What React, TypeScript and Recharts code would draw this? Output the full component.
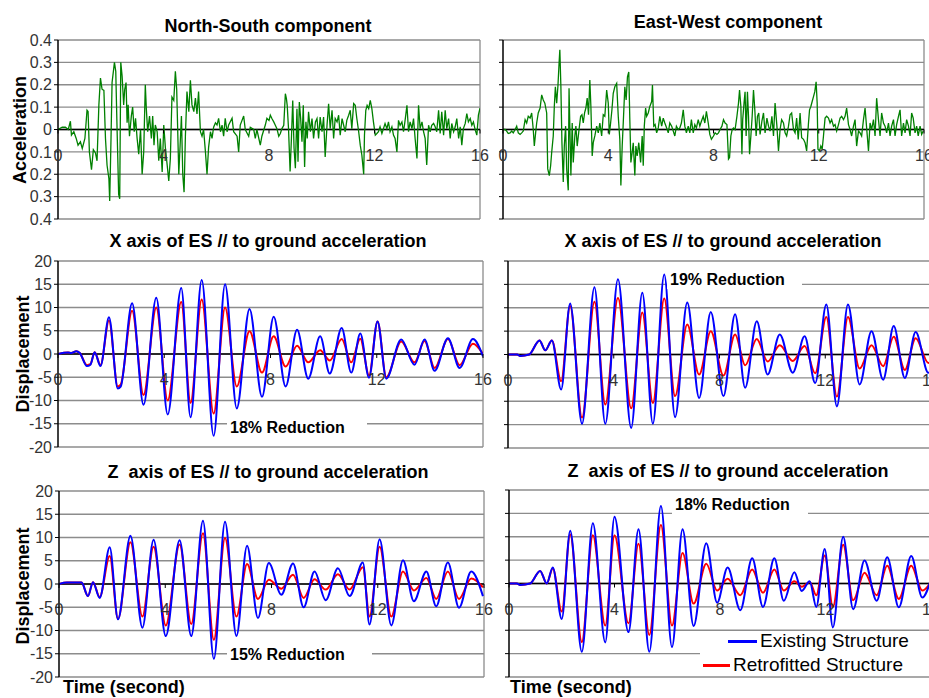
import React from "react";
import { LineChart, Line, XAxis, YAxis, CartesianGrid, ReferenceLine } from "recharts";

const FONT = '"Liberation Sans", Arial, sans-serif';
const GRID = "#8c8c8c";

const TIME_TICKS = [0, 4, 8, 12, 16];
const ACCEL_TICKS = [-0.4, -0.3, -0.2, -0.1, 0, 0.1, 0.2, 0.3, 0.4];
const DISP_TICKS = [-20, -15, -10, -5, 0, 5, 10, 15, 20];

// ground acceleration, [time (s), acceleration]
const nsAccel: [number, number][] = [
  [0, 0], [0.16, 0.01], [0.28, 0.01], [0.39, 0], [0.47, 0.037], [0.51, -0.025], [0.6, -0.01], [0.69, -0.04], [0.76, -0.07], [0.85, -0.055],
  [0.92, -0.085], [1.02, -0.04], [1.1, 0.086], [1.14, 0.08], [1.19, -0.1], [1.27, -0.18], [1.34, -0.09], [1.42, -0.105], [1.48, -0.14], [1.55, 0.11],
  [1.61, 0.23], [1.67, 0.18], [1.74, 0.175], [1.8, -0.04], [1.86, -0.16], [1.93, -0.22], [1.96, -0.32], [2.01, -0.04], [2.05, 0.21], [2.14, 0.3],
  [2.19, 0.26], [2.24, 0], [2.3, -0.29], [2.34, -0.31], [2.38, 0.3], [2.43, 0.24], [2.49, 0.11], [2.53, 0.18], [2.58, 0.21], [2.62, 0.03],
  [2.66, 0.11], [2.71, -0.03], [2.78, 0.06], [2.83, 0.1], [2.89, -0.01], [2.94, 0.05], [3.0, -0.04], [3.06, -0.11], [3.13, 0], [3.19, -0.2],
  [3.25, -0.1], [3.31, 0.2], [3.35, 0.09], [3.4, -0.01], [3.47, 0.06], [3.54, -0.04], [3.59, 0.06], [3.64, -0.07], [3.69, 0.02], [3.76, -0.01],
  [3.82, -0.14], [3.88, -0.04], [3.95, -0.19], [4.01, 0.02], [4.07, -0.08], [4.14, -0.16], [4.2, -0.23], [4.26, -0.13], [4.32, 0.145], [4.39, 0.13],
  [4.45, 0.26], [4.5, 0.18], [4.58, -0.2], [4.63, -0.07], [4.68, 0.06], [4.73, -0.2], [4.78, -0.28], [4.83, -0.03], [4.89, 0.17], [4.96, 0.08],
  [5.02, 0.22], [5.08, 0.11], [5.15, 0.08], [5.21, 0.14], [5.27, 0.07], [5.33, 0.17], [5.4, -0.01], [5.46, -0.03], [5.52, 0], [5.59, -0.1],
  [5.65, -0.2], [5.71, -0.08], [5.78, -0.01], [5.84, -0.04], [5.9, 0.01], [5.97, 0.03], [6.03, 0.02], [6.09, 0.05], [6.16, -0.01], [6.22, 0.02],
  [6.28, -0.03], [6.34, 0.05], [6.41, -0.01], [6.47, 0.02], [6.6, 0.05], [6.66, -0.01], [6.79, -0.03], [6.85, -0.1], [6.91, 0.02], [7.04, 0.06],
  [7.1, 0], [7.23, -0.03], [7.29, 0.01], [7.42, 0], [7.48, -0.04], [7.54, 0], [7.67, -0.07], [7.73, -0.03], [7.86, 0.02], [7.92, 0.05],
  [8.0, 0.04], [8.05, 0.064], [8.11, 0.049], [8.18, 0.034], [8.24, 0.019], [8.3, 0.004], [8.37, -0.03], [8.43, -0.018], [8.49, 0.004], [8.56, 0.019],
  [8.62, 0.16], [8.66, 0.138], [8.69, 0.108], [8.74, 0.004], [8.8, -0.188], [8.85, -0.04], [8.9, 0.13], [8.95, -0.084], [9.0, -0.173], [9.06, 0.093],
  [9.1, -0.144], [9.15, 0.123], [9.2, 0.049], [9.25, -0.055], [9.3, 0.108], [9.35, -0.167], [9.4, 0.034], [9.45, -0.04], [9.5, 0.079], [9.57, -0.01],
  [9.63, 0.049], [9.69, -0.04], [9.76, 0.034], [9.82, 0.049], [9.88, -0.04], [9.94, 0.056], [10.01, -0.01], [10.07, 0.056], [10.13, -0.123], [10.2, 0.019],
  [10.26, 0.115], [10.32, 0.004], [10.39, 0.086], [10.45, -0.04], [10.51, 0.049], [10.58, 0.034], [10.64, 0.064], [10.7, -0.025], [10.77, 0.049], [10.83, 0.019],
  [10.89, -0.01], [10.95, 0.041], [11.02, 0.064], [11.08, 0.086], [11.14, 0.004], [11.21, 0.116], [11.27, 0.108], [11.33, 0.049], [11.4, -0.01], [11.46, -0.07],
  [11.52, -0.114], [11.59, -0.2], [11.62, -0.025], [11.67, 0.086], [11.72, 0.108], [11.78, 0.093], [11.84, 0.13], [11.9, 0.093], [11.96, 0.034], [12.03, -0.025],
  [12.09, -0.018], [12.15, -0.01], [12.21, 0.012], [12.28, -0.018], [12.34, 0.004], [12.4, 0.027], [12.47, 0.004], [12.53, 0.034], [12.59, -0.01], [12.66, 0.012],
  [12.72, -0.025], [12.78, -0.04], [12.85, -0.1], [12.91, 0.041], [12.97, 0.019], [13.04, 0.034], [13.1, -0.01], [13.16, 0.041], [13.23, 0.108], [13.29, -0.01],
  [13.35, 0.034], [13.42, 0.004], [13.48, 0.049], [13.54, -0.04], [13.61, -0.129], [13.67, 0.108], [13.73, 0.004], [13.8, 0.034], [13.86, -0.01], [13.92, -0.04],
  [13.98, -0.159], [14.05, 0.019], [14.11, -0.01], [14.17, 0.019], [14.24, 0.027], [14.3, 0.012], [14.36, -0.01], [14.43, 0.086], [14.49, -0.018], [14.55, 0.079],
  [14.62, -0.025], [14.68, 0.086], [14.74, 0.004], [14.81, 0.049], [14.87, -0.04], [14.93, 0.027], [15.0, -0.01], [15.06, 0.012], [15.12, 0.049], [15.19, -0.04],
  [15.25, 0.012], [15.31, -0.07], [15.37, 0.004], [15.44, 0.027], [15.5, 0.071], [15.56, 0.034], [15.63, 0.049], [15.69, 0.019], [15.75, 0.034], [15.82, -0.003],
  [15.88, -0.025], [15.94, 0.064], [16.0, 0.095],
];

const ewAccel: [number, number][] = [
  [0, 0], [0.08, 0], [0.14, -0.007], [0.2, -0.018], [0.27, -0.015], [0.33, -0.007], [0.39, -0.015], [0.46, 0], [0.52, 0.015], [0.58, -0.015],
  [0.65, -0.022], [0.71, -0.015], [0.77, -0.007], [0.84, 0.044], [0.9, 0.029], [0.96, 0.059], [1.03, 0.051], [1.09, 0.074], [1.15, 0], [1.19, -0.074],
  [1.24, -0.015], [1.28, 0.029], [1.34, 0.074], [1.41, 0.096], [1.47, 0.155], [1.53, 0.132], [1.59, 0.118], [1.66, 0.074], [1.7, -0.176], [1.76, -0.206],
  [1.81, -0.162], [1.85, -0.103], [1.91, -0.029], [1.95, 0.103], [1.99, 0.191], [2.04, 0.118], [2.09, 0.199], [2.13, 0.294], [2.16, 0.356], [2.2, 0.191],
  [2.24, -0.059], [2.29, -0.235], [2.33, -0.074], [2.38, 0.015], [2.42, -0.176], [2.48, -0.272], [2.51, 0.184], [2.54, 0.015], [2.58, -0.206], [2.63, 0.029],
  [2.67, -0.147], [2.73, -0.029], [2.77, 0.015], [2.82, -0.074], [2.89, 0], [2.95, 0.059], [3.0, 0.066], [3.05, 0.029], [3.1, 0.074], [3.15, 0.096],
  [3.2, 0.14], [3.25, 0.066], [3.3, 0.221], [3.34, 0.103], [3.39, -0.118], [3.43, -0.059], [3.49, -0.029], [3.56, 0.015], [3.62, -0.015], [3.68, 0.029],
  [3.75, -0.029], [3.81, 0.066], [3.87, 0.059], [3.94, 0.176], [4.0, 0.118], [4.04, -0.022], [4.09, 0.029], [4.14, 0.088], [4.19, 0.162], [4.25, 0.191],
  [4.32, 0.206], [4.38, 0.059], [4.44, -0.044], [4.48, -0.25], [4.53, -0.074], [4.57, 0.029], [4.63, 0.191], [4.68, 0.132], [4.73, 0.235], [4.78, 0.257],
  [4.82, 0.044], [4.86, -0.147], [4.91, -0.103], [4.95, -0.059], [5.01, -0.206], [5.05, -0.074], [5.1, -0.118], [5.16, -0.059], [5.23, -0.147], [5.29, -0.029],
  [5.33, -0.162], [5.37, 0.015], [5.42, 0.096], [5.46, 0.059], [5.52, 0.074], [5.58, 0.103], [5.65, 0.125], [5.68, 0.199], [5.73, 0.015], [5.78, 0.022],
  [5.84, -0.015], [5.9, 0.007], [5.96, 0.059], [6.03, 0.015], [6.09, 0.051], [6.15, 0.029], [6.22, 0.007], [6.28, -0.015], [6.34, 0.029], [6.41, 0.015],
  [6.47, -0.007], [6.53, -0.029], [6.59, 0.015], [6.66, 0], [6.72, 0.007], [6.78, 0.029], [6.85, 0.088], [6.91, 0.015], [6.97, -0.015], [7.04, 0.015],
  [7.1, -0.015], [7.16, 0.044], [7.23, -0.015], [7.29, 0.022], [7.35, 0.007], [7.42, 0.044], [7.48, 0.015], [7.54, 0.037], [7.61, 0.059], [7.67, 0.029],
  [7.73, 0.081], [7.8, 0.029], [7.86, -0.022], [7.92, -0.044], [8.0, -0.029], [8.06, -0.015], [8.13, -0.022], [8.19, -0.015], [8.25, 0], [8.32, 0.015],
  [8.38, 0.044], [8.44, 0.029], [8.51, 0.022], [8.57, -0.132], [8.61, -0.125], [8.66, -0.029], [8.71, 0], [8.76, 0.007], [8.82, 0], [8.89, 0.059],
  [8.95, 0.118], [8.99, 0.176], [9.04, 0.103], [9.08, -0.11], [9.11, 0.044], [9.16, 0.118], [9.2, 0.169], [9.24, -0.029], [9.29, 0.169], [9.33, 0.059],
  [9.37, -0.11], [9.42, -0.029], [9.47, 0.059], [9.52, 0.176], [9.57, 0.088], [9.62, -0.029], [9.67, 0.059], [9.72, 0.074], [9.77, -0.022], [9.84, 0.037],
  [9.9, 0.074], [9.96, -0.015], [10.03, 0.051], [10.09, 0.015], [10.15, -0.007], [10.22, 0.059], [10.28, -0.029], [10.34, 0.118], [10.41, 0.015], [10.47, -0.096],
  [10.53, 0], [10.59, 0.044], [10.66, 0.029], [10.72, -0.015], [10.78, -0.029], [10.85, 0.015], [10.91, 0.066], [10.97, 0.074], [11.04, 0], [11.1, -0.015],
  [11.16, 0.051], [11.22, -0.044], [11.29, 0.074], [11.35, -0.037], [11.42, -0.044], [11.48, -0.059], [11.54, -0.096], [11.61, 0.029], [11.65, 0.088], [11.7, 0.103],
  [11.75, 0.125], [11.8, 0.147], [11.85, 0.169], [11.9, 0.213], [11.94, 0.118], [11.97, -0.088], [12.03, -0.096], [12.08, -0.074], [12.13, -0.088], [12.18, -0.029],
  [12.24, 0.051], [12.3, 0.059], [12.37, 0.051], [12.43, 0.029], [12.49, 0.044], [12.56, 0.015], [12.62, 0.022], [12.68, -0.007], [12.75, 0.022], [12.81, 0.051],
  [12.87, 0.059], [12.94, 0.044], [13.0, 0.059], [13.06, 0.096], [13.13, 0.022], [13.19, 0], [13.25, -0.029], [13.32, 0.015], [13.38, 0.044], [13.44, -0.074],
  [13.51, -0.007], [13.57, -0.015], [13.63, -0.029], [13.7, 0.044], [13.76, 0.096], [13.82, 0.007], [13.89, -0.096], [13.95, 0.029], [14.01, 0], [14.08, 0.044],
  [14.14, -0.029], [14.2, 0.14], [14.27, 0.044], [14.33, -0.029], [14.39, 0.074], [14.46, 0.029], [14.52, 0.015], [14.58, -0.015], [14.65, 0.029], [14.71, -0.029],
  [14.77, 0.015], [14.84, 0.044], [14.9, -0.029], [14.96, 0.022], [15.03, 0.059], [15.09, 0.088], [15.15, -0.029], [15.22, 0.029], [15.28, -0.015], [15.34, 0.044],
  [15.41, 0.015], [15.47, -0.029], [15.53, 0.074], [15.59, 0.051], [15.66, -0.015], [15.72, 0.015], [15.78, -0.029], [15.85, 0.015], [15.91, -0.022], [15.97, -0.007],
];

// X axis, north-south input
const mlTime = [0, 0.38, 0.5, 0.69, 0.82, 1.09, 1.22, 1.38, 1.6, 1.92, 2.25, 2.36, 2.79, 3.22, 3.7, 4.13, 4.64, 4.99, 5.41, 5.86, 6.29, 6.73, 7.21, 7.68, 8.12, 8.57, 9.0, 9.42, 9.87, 10.23, 10.68, 11.04, 11.38, 11.71, 12.03, 12.36, 12.92, 13.42, 13.8, 14.18, 14.68, 15.12, 15.62, 16];
const mlExisting = [0, 0.3, 0.2, 0.6, 0.2, -2.6, -2.3, 0.4, -2.6, 7.9, -7.4, -7.0, 10.9, -10.9, 12.1, -13, 14.2, -13.6, 15.9, -17.6, 15, -11.7, 9.7, -9.2, 8, -7, 5.2, -5.3, 3.8, -4.2, 5.6, -4, 4.4, -5.1, 7, -5.3, 3.1, -2.3, 3.1, -3.6, 3.4, -3, 3.2, -0.5];
const mlRetrofit = [0, 0.3, 0.2, 0.6, 0.2, -2.4, -2.2, 0.4, -2.4, 7.2, -7, -6.6, 9.3, -8.8, 10, -10, 11.2, -10.5, 11.7, -12.8, 10, -7, 4.9, -4, 3.8, -2.7, 1.8, -1.8, 0.8, -1.4, 3.2, -1.8, 3.3, -4.6, 7, -5, 2.7, -1.8, 2.8, -3, 3.2, -2.4, 2.2, 0];

// X axis, east-west input
const mrTime = [0, 0.35, 0.46, 0.8, 1.19, 1.41, 1.66, 2.01, 2.35, 2.8, 3.27, 3.68, 4.16, 4.66, 5.08, 5.48, 5.91, 6.32, 6.78, 7.23, 7.67, 8.15, 8.59, 8.97, 9.41, 9.82, 10.28, 10.77, 11.22, 11.62, 12.04, 12.44, 12.86, 13.3, 13.75, 14.19, 14.59, 15.01, 15.42, 15.9, 16];
const mrExisting = [0, 0, -0.3, 0, 3, 0.9, 3, -7.5, 10.9, -14.8, 14.4, -14.8, 16.1, -15.7, 13.2, -14.8, 17.1, -13.4, 11.1, -9.3, 9.1, -8.9, 8.6, -7.1, 7.1, -4.3, 4.3, -3.9, 3.9, -6.1, 10.7, -11.1, 10.7, -6.4, 5, -5.4, 6.1, -5, 4.8, -3.9, -3.5];
const mrRetrofit = [0, 0, -0.3, 0, 3, 0.9, 3, -5.7, 10.4, -13.5, 11.3, -10.7, 12.1, -11.5, 9, -10.4, 12, -8.9, 6.4, -4.3, 5, -4.5, 4.3, -2.3, 3.3, -1.5, 2, -1.4, 1.8, -4, 8, -9, 8, -3, 2, -2.5, 3.8, -3.3, 3.5, -1.8, -1.5];

// Z axis, north-south input
const blTime = [0, 0.3, 0.85, 1.09, 1.28, 1.53, 1.91, 2.22, 2.69, 3.14, 3.56, 4.02, 4.54, 4.98, 5.42, 5.83, 6.25, 6.68, 7.08, 7.49, 7.9, 8.37, 8.81, 9.21, 9.62, 10.04, 10.5, 10.94, 11.44, 11.69, 12.07, 12.51, 12.95, 13.36, 13.83, 14.2, 14.64, 15.06, 15.52, 15.96];
const blExisting = [0, 0.3, 0.3, -2.6, 0.4, -3, 7.9, -7.6, 10.4, -9.4, 9.5, -11.2, 9.4, -11.2, 13.6, -16.1, 13.4, -11.2, 8.2, -7.3, 4.5, -2.3, 4.4, -5, 2.7, -3.5, 3.4, -2.6, 4.6, -8.7, 9.6, -8.9, 5.1, -3.7, 2.7, -4.8, 4.6, -5.1, 2.7, -2.6];
const blRetrofit = [0, 0.3, 0.3, -2.6, 0.4, -2.8, 6, -7.5, 9, -7, 8, -8.9, 8.5, -8.6, 10.9, -12, 9.9, -7, 4.3, -3.2, 0.9, -1, 2, -3, 1, -1.2, 2.1, -1.2, 3.6, -7, 8, -7, 2.7, -1.4, 1.3, -3.2, 2.7, -3.2, 1.2, -0.7];

// Z axis, east-west input
const brTime = [0, 0.3, 0.42, 0.8, 1.18, 1.43, 1.66, 2.0, 2.32, 2.76, 3.18, 3.65, 4.0, 4.53, 4.91, 5.32, 5.76, 6.18, 6.58, 7.0, 7.48, 7.89, 8.29, 8.77, 9.22, 9.63, 10.06, 10.42, 10.82, 11.1, 11.4, 11.65, 11.97, 12.28, 12.67, 13.05, 13.48, 13.94, 14.34, 14.78, 15.25, 15.67, 16];
const brExisting = [0, 0, -0.3, 0, 2.7, 0, 3.4, -7.6, 11.3, -14.6, 12.9, -12.6, 14.3, -10.4, 11.6, -14.6, 16.6, -13.6, 11.6, -9.1, 8.6, -4.1, 3.4, -5.7, 5.4, -5, 5.4, -3.7, 2.4, -1.6, 0.5, -5, 7.4, -9.4, 10, -5.5, 4.9, -3.7, 5.6, -5.1, 5.9, -3, 0.9];
const brRetrofit = [0, 0, -0.3, 0, 2.7, 0, 3.2, -6, 10.5, -12.5, 10.3, -9, 10.3, -8.5, 8.5, -11, 12.5, -9, 6.5, -4.3, 4.2, -1.5, 1, -2.5, 3, -2, 3, -1.5, 0.5, -0.7, 0.3, -2.5, 6, -5, 8.3, -3.6, 2.3, -2.5, 3.8, -3.3, 3.8, -1.5, 0.3];

const accelRows = (pts: [number, number][]) => pts.map(([t, v]) => ({ t, v }));
const dispRows = (time: number[], ex: number[], re: number[]) =>
  time.map((t, i) => ({ t, existing: ex[i], retrofitted: re[i] }));

const accelFmt = (v: number) => (v === 0 ? "0" : Math.abs(v).toFixed(1));

// labels sit on the zero line, like an axis crossing at 0
function TimeTick(props: any) {
  const { x, payload, zeroY } = props;
  return (
    <g>
      <line x1={x} x2={x} y1={zeroY} y2={zeroY + 4} stroke="#000" />
      <text x={x} y={zeroY + 31} textAnchor="middle" fontSize={16} fill="#333" fontFamily={FONT}>
        {payload.value}
      </text>
    </g>
  );
}

function NoLabel() {
  return <g />;
}

type SeriesDef = { key: string; color: string; width: number; curve: "linear" | "monotone" };

function Panel(props: {
  left: number;
  top: number;
  plotW: number;
  plotH: number;
  yW: number;
  rows: any[];
  domain: [number, number];
  ticks: number[];
  labels: boolean;
  fmt?: (v: number) => string;
  series: SeriesDef[];
}) {
  const { left, top, plotW, plotH, yW, rows, domain, ticks, labels, fmt, series } = props;
  const zeroY = 10 + plotH / 2;
  return (
    <div style={{ position: "absolute", left, top }}>
      <LineChart width={yW + plotW + 10} height={plotH + 20} data={rows} margin={{ top: 10, right: 10, bottom: 9, left: 0 }}>
        <CartesianGrid vertical={false} stroke={GRID} strokeWidth={1.3} />
        <XAxis
          dataKey="t"
          type="number"
          domain={[0, 16]}
          ticks={TIME_TICKS}
          interval={0}
          height={1}
          axisLine={false}
          tickLine={false}
          tick={<TimeTick zeroY={zeroY} />}
          allowDataOverflow
        />
        <YAxis
          type="number"
          domain={domain}
          ticks={ticks}
          interval={0}
          width={yW}
          axisLine={{ stroke: "#000", strokeWidth: 1.5 }}
          tickLine={{ stroke: "#000" }}
          tickSize={4}
          tickMargin={2}
          tick={labels ? { fontSize: 16, fill: "#333", fontFamily: FONT } : <NoLabel />}
          tickFormatter={fmt}
          allowDataOverflow
        />
        <ReferenceLine x={16} stroke={GRID} strokeWidth={1.3} />
        <ReferenceLine y={0} stroke="#000" strokeWidth={1.5} />
        {series.map((s) => (
          <Line
            key={s.key}
            dataKey={s.key}
            type={s.curve}
            stroke={s.color}
            strokeWidth={s.width}
            dot={false}
            isAnimationActive={false}
          />
        ))}
      </LineChart>
    </div>
  );
}

const ACCEL_SERIES: SeriesDef[] = [{ key: "v", color: "#008000", width: 1.3, curve: "linear" }];
const DISP_SERIES: SeriesDef[] = [
  { key: "retrofitted", color: "#ff0000", width: 2, curve: "monotone" },
  { key: "existing", color: "#0000ff", width: 2, curve: "monotone" },
];

function Title({ text, cx, cy }: { text: string; cx: number; cy: number }) {
  return (
    <div
      style={{
        position: "absolute",
        left: cx - 250,
        top: cy - 11,
        width: 500,
        textAlign: "center",
        fontSize: 18,
        lineHeight: "22px",
        fontWeight: "bold",
        whiteSpace: "pre",
      }}
    >
      {text}
    </div>
  );
}

function SideLabel({ text, cx, cy }: { text: string; cx: number; cy: number }) {
  return (
    <div
      style={{
        position: "absolute",
        left: cx - 100,
        top: cy - 11,
        width: 200,
        textAlign: "center",
        fontSize: 18,
        lineHeight: "22px",
        fontWeight: "bold",
        transform: "rotate(-90deg)",
      }}
    >
      {text}
    </div>
  );
}

function Note({ text, left, width, cy }: { text: string; left: number; width: number; cy: number }) {
  return (
    <div
      style={{
        position: "absolute",
        left,
        top: cy - 9,
        width,
        height: 18,
        background: "#fff",
        fontSize: 16,
        lineHeight: "18px",
        fontWeight: "bold",
        paddingLeft: 3,
        boxSizing: "border-box",
      }}
    >
      {text}
    </div>
  );
}

export default function App() {
  return (
    <div
      style={{
        position: "fixed",
        left: 0,
        top: 0,
        width: 929,
        height: 698,
        overflow: "hidden",
        background: "#fff",
        fontFamily: FONT,
        color: "#000",
      }}
    >
      <Panel left={8} top={30} plotW={422} plotH={179} yW={50} rows={accelRows(nsAccel)} domain={[-0.4, 0.4]} ticks={ACCEL_TICKS} labels fmt={accelFmt} series={ACCEL_SERIES} />
      <Panel left={493} top={30} plotW={421} plotH={179} yW={10} rows={accelRows(ewAccel)} domain={[-0.4, 0.4]} ticks={ACCEL_TICKS} labels={false} series={ACCEL_SERIES} />
      <Panel left={8} top={251} plotW={425} plotH={186} yW={50} rows={dispRows(mlTime, mlExisting, mlRetrofit)} domain={[-20, 20]} ticks={DISP_TICKS} labels series={DISP_SERIES} />
      <Panel left={498} top={251} plotW={423} plotH={187} yW={10} rows={dispRows(mrTime, mrExisting, mrRetrofit)} domain={[-20, 20]} ticks={DISP_TICKS} labels={false} series={DISP_SERIES} />
      <Panel left={9} top={481} plotW={425} plotH={186} yW={50} rows={dispRows(blTime, blExisting, blRetrofit)} domain={[-20, 20]} ticks={DISP_TICKS} labels series={DISP_SERIES} />
      <Panel left={499} top={480} plotW={422} plotH={187} yW={10} rows={dispRows(brTime, brExisting, brRetrofit)} domain={[-20, 20]} ticks={DISP_TICKS} labels={false} series={DISP_SERIES} />

      <Title text="North-South component" cx={268} cy={26} />
      <Title text="East-West component" cx={728} cy={22} />
      <Title text="X axis of ES // to ground acceleration" cx={268} cy={241} />
      <Title text="X axis of ES // to ground acceleration" cx={723} cy={241} />
      <Title text="Z  axis of ES // to ground acceleration" cx={268} cy={472} />
      <Title text="Z  axis of ES // to ground acceleration" cx={728} cy={471} />

      <SideLabel text="Acceleration" cx={20} cy={130} />
      <SideLabel text="Displacement" cx={23} cy={354} />
      <SideLabel text="Displacement" cx={23} cy={586} />

      <Note text="18% Reduction" left={227} width={140} cy={428} />
      <Note text="19% Reduction" left={667} width={135} cy={280} />
      <Note text="15% Reduction" left={227} width={145} cy={655} />
      <Note text="18% Reduction" left={672} width={136} cy={505} />

      <div style={{ position: "absolute", left: 700, top: 631, width: 229, height: 45, background: "#fff" }} />
      <div style={{ position: "absolute", left: 728, top: 631, display: "flex", alignItems: "center", height: 20 }}>
        <span style={{ display: "inline-block", width: 29, height: 3, background: "#0000ff", marginRight: 3 }} />
        <span style={{ fontSize: 19, lineHeight: "20px" }}>Existing Structure</span>
      </div>
      <div style={{ position: "absolute", left: 703, top: 655, display: "flex", alignItems: "center", height: 20 }}>
        <span style={{ display: "inline-block", width: 27, height: 3, background: "#ff0000", marginRight: 3 }} />
        <span style={{ fontSize: 19, lineHeight: "20px" }}>Retrofitted Structure</span>
      </div>

      <div style={{ position: "absolute", left: 63, top: 676, fontSize: 18, fontWeight: "bold", lineHeight: "22px" }}>Time (second)</div>
      <div style={{ position: "absolute", left: 510, top: 676, fontSize: 18, fontWeight: "bold", lineHeight: "22px" }}>Time (second)</div>
    </div>
  );
}
